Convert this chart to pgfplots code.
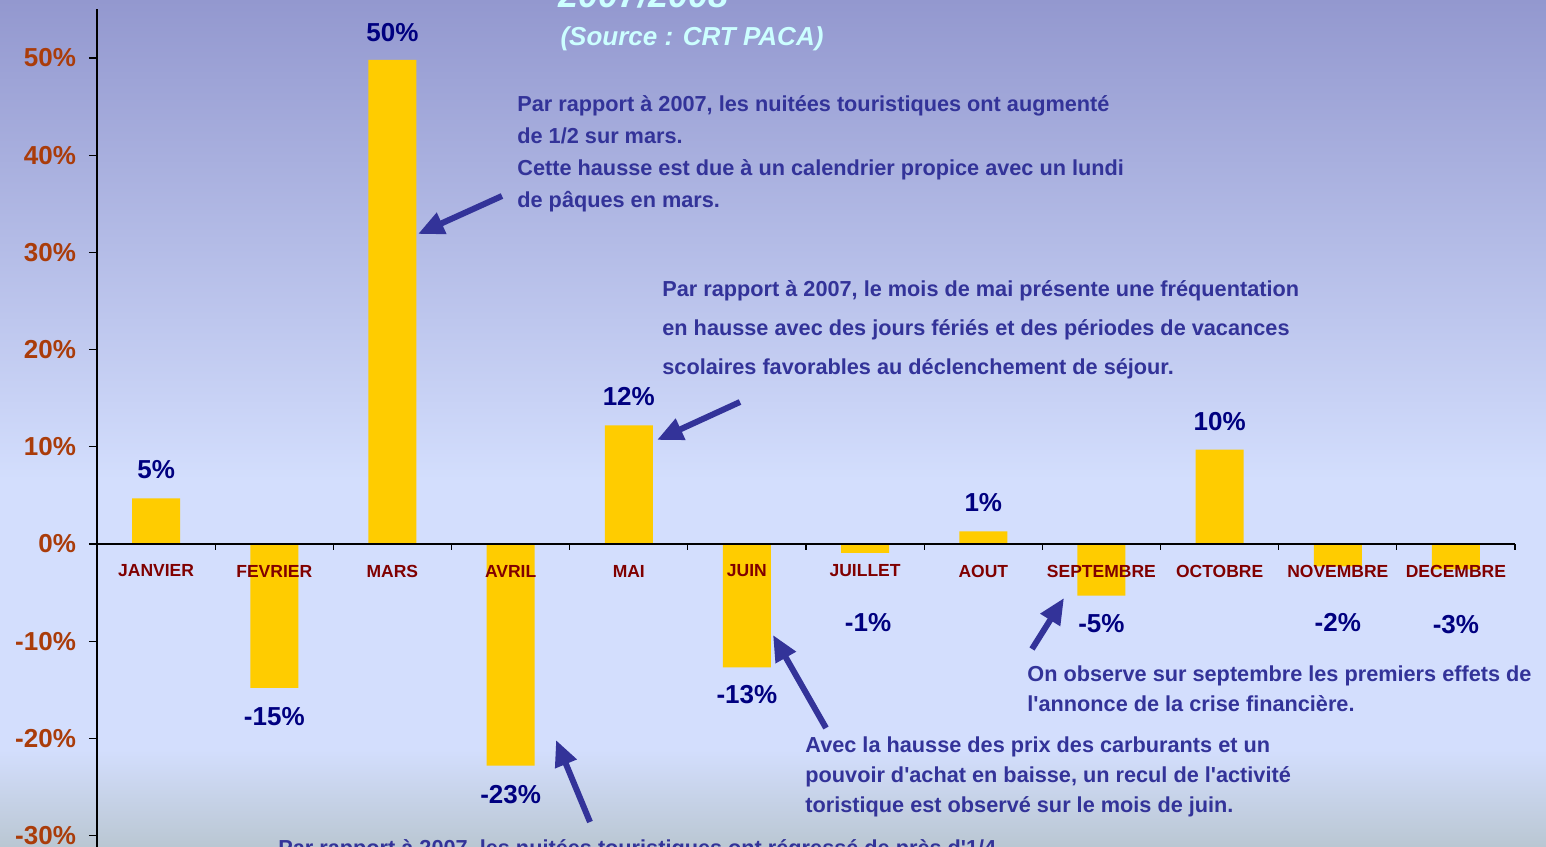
\documentclass[border=0pt]{standalone}
\usepackage{pgfplots}
\pgfplotsset{compat=1.18}
\usepackage{fontspec}
\setmainfont{Liberation Sans}
\usetikzlibrary{arrows.meta}
\definecolor{bgtop}{RGB}{147,152,207}
\definecolor{bgmid}{RGB}{211,222,253}
\definecolor{bgbot}{RGB}{186,199,211}
\definecolor{gold}{RGB}{255,204,0}
\definecolor{tickc}{RGB}{170,60,10}
\definecolor{catc}{RGB}{128,0,0}
\definecolor{valc}{RGB}{0,0,128}
\definecolor{annc}{RGB}{51,51,153}
\definecolor{titc}{RGB}{204,255,255}
\newcommand{\catf}{\bfseries\fontsize{8.75}{10}\selectfont}
\newcommand{\valf}{\bfseries\fontsize{13}{15}\selectfont}
\newcommand{\annf}{\bfseries\fontsize{10.85}{13}\selectfont}
\begin{document}
\begin{tikzpicture}
\useasboundingbox (0,0) rectangle (773pt,423pt);
\clip (0,0) rectangle (773pt,423pt);
\shade[top color=bgtop,bottom color=bgmid] (0,183pt) rectangle (773pt,423pt);
\fill[bgmid] (0,48pt) rectangle (773pt,183.2pt);
\shade[top color=bgmid,bottom color=bgbot] (0,0) rectangle (773pt,48.2pt);
\begin{axis}[
  at={(48.5pt,-0.65pt)}, anchor=south west,
  scale only axis, width=709pt, height=418.95pt,
  xmin=-0.5, xmax=11.5, ymin=-31.2, ymax=55,
  axis x line=none, axis y line=left,
  y axis line style={-, line width=0.6pt, black},
  ytick={-30,-20,-10,0,10,20,30,40,50},
  yticklabels={-30\%,-20\%,-10\%,0\%,10\%,20\%,30\%,40\%,50\%},
  tick align=outside, major tick length=4pt,
  ytick style={black, line width=0.6pt},
  yticklabel style={font=\bfseries\fontsize{13}{15}\selectfont, text=tickc, xshift=-3pt},
  clip=false,
]
\addplot[ybar, bar width=24pt, fill=gold, draw=none] coordinates {
  (0,4.7) (1,-14.8) (2,49.8) (3,-22.8) (4,12.2) (5,-12.7)
  (6,-0.9) (7,1.3) (8,-5.3) (9,9.7) (10,-2.3) (11,-2.6)};
\draw[black, line width=0.6pt] (axis cs:-0.5,0) -- (axis cs:11.5,0);
\pgfplotsinvokeforeach{0.5,1.5,...,11.5}{\draw[black, line width=0.6pt] (axis cs:#1,0) -- ([yshift=-3pt]axis cs:#1,0);}
\end{axis}
\begin{scope}[x=0.5pt,y=-0.5pt,shift={(0pt,423pt)}]
% title
\node[anchor=base west, text=titc, inner sep=0pt] at (558,8) {\bfseries\itshape\fontsize{18}{20}\selectfont 2007/2008};
\node[anchor=center, text=titc, inner sep=0pt] at (692,39) {\bfseries\itshape\fontsize{13}{15}\selectfont (Source : CRT PACA)};
% category labels
\foreach \x/\t in {156.1/JANVIER,274.3/FEVRIER,392.4/MARS,510.6/AVRIL,628.8/MAI,746.9/JUIN,865.1/JUILLET,983.3/AOUT,1101.4/SEPTEMBRE,1219.6/OCTOBRE,1337.8/NOVEMBRE,1455.9/DECEMBRE}
  \node[anchor=center, text=catc, inner sep=0pt] at (\x,571) {\catf \t};
% value labels
\foreach \x/\y/\t in {156.1/470/5,274.3/717/-15,392.4/33/50,510.6/795/-23,628.8/397/12,746.9/695/-13,868/623/-1,983.3/503/1,1101.4/624/-5,1219.6/422/10,1337.8/623/-2,1455.9/625/-3}
  \node[anchor=center, text=valc, inner sep=0pt] at (\x,\y) {\valf \t\%};
% annotations
\begin{scope}[every node/.style={anchor=base west, text=annc, inner sep=0pt, font=\annf}]
\node at (517,112) {Par rapport à 2007, les nuitées touristiques ont augmenté};
\node at (517,144) {de 1/2 sur mars.};
\node at (517,176) {Cette hausse est due à un calendrier propice avec un lundi};
\node at (517,208) {de pâques en mars.};
\node at (662,297) {Par rapport à 2007, le mois de mai présente une fréquentation};
\node at (662,336) {en hausse avec des jours fériés et des périodes de vacances};
\node at (662,375) {scolaires favorables au déclenchement de séjour.};
\node at (1027,682) {On observe sur septembre les premiers effets de};
\node at (1027,712) {l\textquotesingle annonce de la crise financière.};
\node at (805,752) {Avec la hausse des prix des carburants et un};
\node at (805,782) {pouvoir d\textquotesingle achat en baisse, un recul de l\textquotesingle activité};
\node at (805,812) {toristique est observé sur le mois de juin.};
\node at (278,855) {Par rapport à 2007, les nuitées touristiques ont régressé de près d\textquotesingle 1/4};
\end{scope}
% arrows
\begin{scope}[annc, line width=3pt, -{Triangle[length=13pt,width=11pt]}]
\draw (502,196) -- (418,234);
\draw (740,402) -- (657,440);
\draw (590,822) -- (556,740);
\draw (826,728) -- (773,635);
\draw (1032,649) -- (1064,598);
\end{scope}
\end{scope}
\end{tikzpicture}
\end{document}
